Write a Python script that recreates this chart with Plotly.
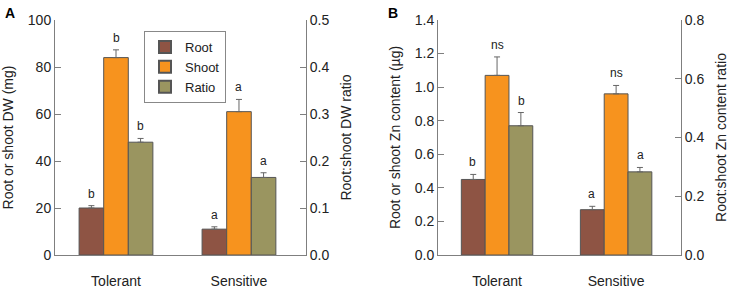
import plotly.graph_objects as go

categories = ["Tolerant", "Sensitive"]
series = ["Root", "Shoot", "Ratio"]
colors = {"Root": "#8E5444", "Shoot": "#F7931E", "Ratio": "#9A9560"}

# Panel A
a_root = [20, 11]
a_root_err = [1.0, 1.0]
a_shoot = [84, 61]
a_shoot_err = [3.3, 5.2]
a_ratio = [0.240, 0.165]
a_ratio_err = [0.008, 0.010]
a_letters = {"Root": ["b", "a"], "Shoot": ["b", "a"], "Ratio": ["b", "a"]}
a_left_ticks = [0, 20, 40, 60, 80, 100]
a_right_ticks = [0.0, 0.1, 0.2, 0.3, 0.4, 0.5]

# Panel B
b_root = [0.45, 0.27]
b_root_err = [0.03, 0.02]
b_shoot = [1.07, 0.96]
b_shoot_err = [0.11, 0.05]
b_ratio = [0.44, 0.283]
b_ratio_err = [0.045, 0.015]
b_letters = {"Root": ["b", "a"], "Shoot": ["ns", "ns"], "Ratio": ["b", "a"]}
b_left_ticks = [0.0, 0.2, 0.4, 0.6, 0.8, 1.0, 1.2, 1.4]
b_right_ticks = [0.0, 0.2, 0.4, 0.6, 0.8]

FONT = "Liberation Sans, Arial, sans-serif"
AX = "#7f7f7f"
BAR_LINE = "#555555"
TXT = "#222222"
offsets = {"Root": -0.3, "Shoot": -0.1, "Ratio": 0.1}
W = 0.2

fig = go.Figure()

panels = [
    dict(x="x", y="y", y2="y2", data={"Root": (a_root, a_root_err), "Shoot": (a_shoot, a_shoot_err), "Ratio": (a_ratio, a_ratio_err)}, letters=a_letters, legend=True),
    dict(x="x2", y="y3", y2="y4", data={"Root": (b_root, b_root_err), "Shoot": (b_shoot, b_shoot_err), "Ratio": (b_ratio, b_ratio_err)}, letters=b_letters, legend=False),
]

annotations = []
for p in panels:
    for s in series:
        vals, errs = p["data"][s]
        yax = p["y2"] if s == "Ratio" else p["y"]
        fig.add_trace(go.Bar(
            x=categories, y=vals, name=s, xaxis=p["x"], yaxis=yax,
            width=W, offset=offsets[s],
            marker=dict(color=colors[s], line=dict(color=BAR_LINE, width=1)),
            error_y=dict(type="data", symmetric=False, array=errs, arrayminus=[0] * len(errs),
                         color="#666666", thickness=1, width=3),
            showlegend=p["legend"], legendrank={"Root": 1, "Shoot": 2, "Ratio": 3}[s],
        ))
        for i, c in enumerate(categories):
            annotations.append(dict(
                x=c, y=vals[i] + errs[i], xref=p["x"], yref=yax,
                text=p["letters"][s][i], showarrow=False,
                xshift=(offsets[s] + W / 2) * 123, yshift=12,
                font=dict(size=12, color=TXT, family=FONT),
            ))

annotations += [
    dict(text="<b>A</b>", x=3 / 741, y=1 - 3 / 290, xref="paper", yref="paper", xanchor="left", yanchor="top",
         showarrow=False, font=dict(size=14, color="black", family=FONT)),
    dict(text="<b>B</b>", x=386 / 741, y=1 - 3 / 290, xref="paper", yref="paper", xanchor="left", yanchor="top",
         showarrow=False, font=dict(size=14, color="black", family=FONT)),
]

dom_y = [35 / 290, 270 / 290]
xcommon = dict(type="category", range=[-0.496, 1.545], showline=True, linecolor=AX, linewidth=1,
               ticks="", ticklabelstandoff=13, tickfont=dict(size=14, color=TXT, family=FONT),
               fixedrange=True, zeroline=False, showgrid=False, automargin=False)
ycommon = dict(showline=True, linecolor=AX, linewidth=1, ticks="inside", ticklen=6, tickcolor=AX,
               tickfont=dict(size=14, color=TXT, family=FONT), showgrid=False, zeroline=False,
               title_font=dict(size=14, color=TXT, family=FONT), automargin=False)

fig.update_layout(
    template="none",
    width=741, height=290, margin=dict(l=0, r=0, t=0, b=0),
    plot_bgcolor="white", paper_bgcolor="white",
    font=dict(family=FONT),
    xaxis=dict(domain=[55 / 741, 306 / 741], anchor="y", **xcommon),
    xaxis2=dict(domain=[438 / 741, 681 / 741], anchor="y3", **xcommon),
    yaxis=dict(domain=dom_y, anchor="x", range=[0, 100], tickvals=a_left_ticks,
               ticktext=[str(v) for v in a_left_ticks], title=dict(text="Root or shoot DW (mg)", standoff=13), **ycommon),
    yaxis2=dict(overlaying="y", side="right", anchor="x", range=[0, 0.5], tickvals=a_right_ticks,
                ticktext=[f"{v:.1f}" for v in a_right_ticks], title=dict(text="Root:shoot DW ratio", standoff=12), **ycommon),
    yaxis3=dict(domain=dom_y, anchor="x2", range=[0, 1.4], tickvals=b_left_ticks,
                ticktext=[f"{v:.1f}" for v in b_left_ticks], title=dict(text="Root or shoot Zn content (µg)", standoff=10), **ycommon),
    yaxis4=dict(overlaying="y3", side="right", anchor="x2", range=[0, 0.8], tickvals=b_right_ticks,
                ticktext=[f"{v:.1f}" for v in b_right_ticks], title=dict(text="Root:shoot Zn content ratio", standoff=12), **ycommon),
    legend=dict(x=144 / 741, y=1 - 31 / 290, xanchor="left", yanchor="top", bordercolor="#888888", borderwidth=1,
                bgcolor="white", font=dict(size=13, color=TXT, family=FONT), traceorder="normal",
                itemsizing="constant", tracegroupgap=0),
    annotations=annotations,
    bargap=0.4,
)

fig.write_html("out.html", config={"displayModeBar": False},
               post_script="document.body.style.margin='0';document.body.style.overflow='hidden';")
